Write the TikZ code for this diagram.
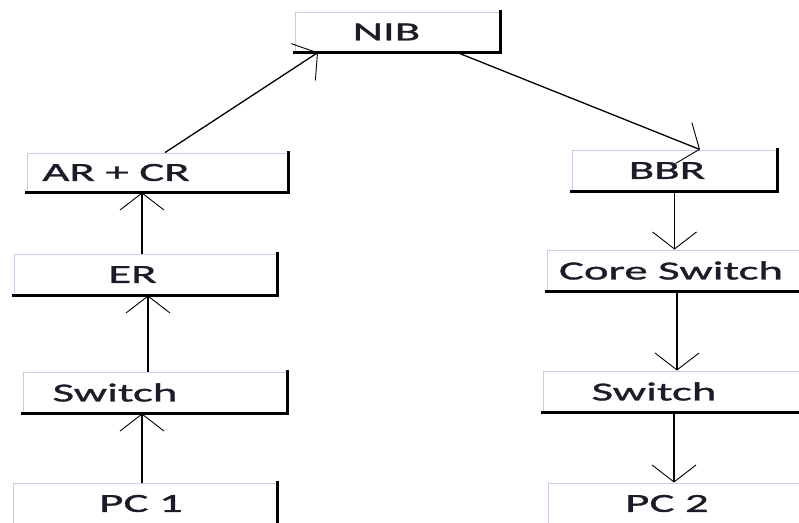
\documentclass[tikz,border=0pt]{standalone}
\usepackage{fontspec}
\setmainfont{Carlito}[FakeStretch=1.8, FakeBold=1.2]
\usetikzlibrary{arrows.meta}
\definecolor{boxedge}{RGB}{196,206,230}
\definecolor{labelink}{RGB}{28,28,40}
\tikzset{
  box/.style={draw=boxedge, line width=0.9pt, inner sep=0pt, minimum height=41pt},
  heavy/.style={line width=3.4pt, line cap=rect},
  link/.style={line width=1.3pt, -{Straight Barb[length=17pt,width=44pt,line width=0.9pt]}},
  txt/.style={font=\fontsize{26}{30}\selectfont, text=labelink, inner sep=0pt}
}
\begin{document}
\begin{tikzpicture}[x=1pt, y=-1pt]
	\useasboundingbox (0,0) rectangle (799,522);
	\clip (0,0) rectangle (799,522);
	% left column
	\node[box, minimum width=205pt, minimum height=40pt, label={[txt, xshift=-11pt]center:NIB}] (nib) at (397.5,32) {};
	\node[box, minimum width=261pt, minimum height=39pt, label={[txt, xshift=-41.5pt]center:AR + CR}] (arcr) at (157.5,172.5) {};
	\node[box, minimum width=263pt, label={[txt, xshift=-13pt]center:ER}] (er) at (145.5,274.5) {};
	\node[box, minimum width=264pt, label={[txt, xshift=-40pt]center:Switch}] (swl) at (155,392.5) {};
	\node[box, minimum width=264pt, label={[txt, xshift=-4pt]center:PC 1}] (pc1) at (145,503.5) {};
	% right column
	\node[box, minimum width=205pt, label={[txt, xshift=-7.5pt]center:BBR}] (bbr) at (674.5,170.5) {};
	\node[box, minimum width=273pt, label={[txt, xshift=-12.5pt]center:Core Switch}] (core) at (683.5,270.5) {};
	\node[box, minimum width=277pt, label={[txt, xshift=-27.5pt]center:Switch}] (swr) at (681.5,391.5) {};
	\node[box, minimum width=272pt, label={[txt, xshift=-17pt]center:PC 2}] (pc2) at (684,503.5) {};
	\foreach \b in {nib,arcr,er,swl,pc1,bbr,core,swr,pc2}
		\draw[heavy] (\b.south west) -- (\b.south east) -- (\b.north east);
	% links
	\draw[link] ([xshift=7.5pt]arcr.north) -- ([xshift=-79.5pt]nib.south);
	\draw[link] ([xshift=59.5pt]nib.south) -- ([xshift=25.5pt]bbr.north);
	\draw[link] ([xshift=-3.5pt]er.north) -- ([xshift=-3.5pt]er.north |- arcr.south);
	\draw[link] ([xshift=-7pt]swl.north) -- ([xshift=-7pt]swl.north |- er.south);
	\draw[link] ([xshift=-3pt]pc1.north) -- ([xshift=-3pt]pc1.north |- swl.south);
	\draw[link] (bbr.south) -- (bbr.south |- core.north);
	\draw[link] ([xshift=-6.5pt]core.south) -- ([xshift=-6.5pt]core.south |- swr.north);
	\draw[link] ([xshift=-7.5pt]swr.south) -- ([xshift=-7.5pt]swr.south |- pc2.north);
\end{tikzpicture}
\end{document}
